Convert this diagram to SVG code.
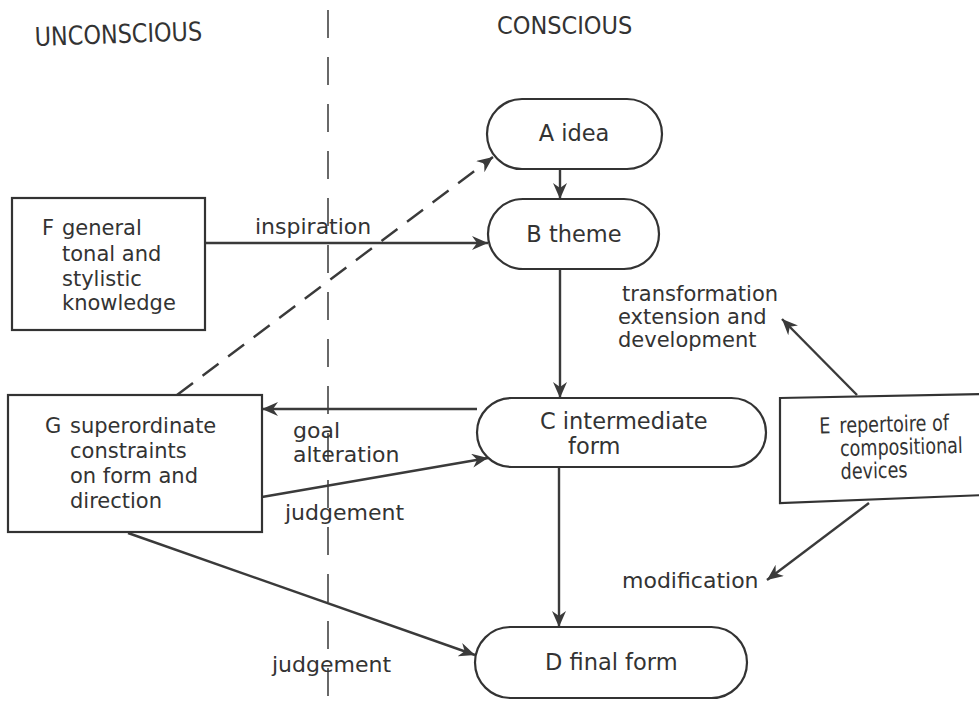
<svg xmlns="http://www.w3.org/2000/svg" width="979" height="710" viewBox="0 0 979 710">
<defs>
<style>
text{font-family:"DejaVu Sans","Liberation Sans",sans-serif;fill:#333;}
.lbl{font-size:22.5px;}
.box{font-size:21px;}
.side{font-size:22px;}
.tr{font-size:21px;}
.shape{fill:#fff;stroke:#333;stroke-width:2.2;}
.edge{fill:none;stroke:#3a3a3a;stroke-width:2.4;}
.dash{fill:none;stroke:#3a3a3a;stroke-width:2.4;stroke-dasharray:20 12;}
.divider{stroke:#444;stroke-width:1.6;stroke-dasharray:28 19;}
</style>
<marker id="ah" markerUnits="userSpaceOnUse" markerWidth="18" markerHeight="14" refX="16" refY="7" orient="auto">
<path d="M0,0 L16,7 L0,14 L5,7 z" fill="#3a3a3a"/>
</marker>
</defs>
<rect width="979" height="710" fill="#fff"/>

<g id="divider">
<line class="divider" x1="328" y1="10" x2="328" y2="710"/>
</g>
<g id="headers">
<text transform="translate(35,46) rotate(-2) scale(0.86,1)" style="font-size:26px">UNCONSCIOUS</text>
<text transform="translate(497,34) scale(0.9,1)" style="font-size:25px">CONSCIOUS</text>
</g>

<g id="connectors">
<line class="edge" x1="560" y1="169" x2="560" y2="199" marker-end="url(#ah)"/>
<line class="edge" x1="560" y1="269" x2="560" y2="398" marker-end="url(#ah)"/>
<line class="edge" x1="559" y1="467" x2="559" y2="627" marker-end="url(#ah)"/>
<line class="edge" x1="205" y1="243" x2="488" y2="243" marker-end="url(#ah)"/>
<line class="edge" x1="477" y1="409" x2="262" y2="409" marker-end="url(#ah)"/>
<line class="edge" x1="262" y1="497" x2="488" y2="458" marker-end="url(#ah)"/>
<line class="edge" x1="128" y1="533" x2="475" y2="655" marker-end="url(#ah)"/>
<line class="dash" x1="177" y1="395" x2="493" y2="157" marker-end="url(#ah)"/>
<line class="edge" x1="857" y1="395" x2="782" y2="319" marker-end="url(#ah)"/>
<line class="edge" x1="869" y1="503" x2="767" y2="580" marker-end="url(#ah)"/>
</g>

<g id="edge-labels">
<text class="side" x="255" y="234">inspiration</text>
<text class="side" x="293" y="438">goal</text>
<text class="side" x="293" y="462">alteration</text>
<text class="side" x="285" y="520">judgement</text>
<text class="side" x="272" y="672">judgement</text>
<text class="tr" x="622" y="301">transformation</text>
<text class="tr" x="618" y="324">extension and</text>
<text class="tr" x="618" y="347">development</text>
<text class="side" x="622" y="588">modification</text>
</g>

<g id="node-A">
<rect class="shape" x="487" y="99" width="175" height="70" rx="35"/>
<text class="lbl" x="574" y="141" text-anchor="middle">A idea</text>
</g>
<g id="node-B">
<rect class="shape" x="488" y="199" width="171" height="70" rx="35"/>
<text class="lbl" x="574" y="242" text-anchor="middle">B theme</text>
</g>
<g id="node-C">
<rect class="shape" x="477" y="398" width="289" height="69" rx="34.5"/>
<text class="lbl" x="540" y="429">C intermediate</text>
<text class="lbl" x="568" y="454">form</text>
</g>
<g id="node-D">
<rect class="shape" x="475" y="627" width="272" height="71" rx="35.5"/>
<text class="lbl" x="545" y="670">D final form</text>
</g>
<g id="node-F">
<rect class="shape" x="12" y="198" width="193" height="132"/>
<text class="box" x="42" y="235">F</text>
<text class="box" x="62" y="235">general</text>
<text class="box" x="62" y="261">tonal and</text>
<text class="box" x="62" y="286">stylistic</text>
<text class="box" x="62" y="310">knowledge</text>
</g>
<g id="node-G">
<rect class="shape" x="8" y="395" width="254" height="137"/>
<text class="box" x="45" y="433">G</text>
<text class="box" x="70" y="433">superordinate</text>
<text class="box" x="70" y="458">constraints</text>
<text class="box" x="70" y="483">on form and</text>
<text class="box" x="70" y="508">direction</text>
</g>
<g id="node-E">
<path class="shape" d="M780,398 L985,394 L985,495 L780,503 Z"/>
<g transform="rotate(-1.5 880 450)">
<text transform="translate(820,432) scale(0.8,1)" style="font-size:22px">E</text>
<text transform="translate(840,432) scale(0.8,1)" style="font-size:22px">repertoire of</text>
<text transform="translate(840,455) scale(0.8,1)" style="font-size:22px">compositional</text>
<text transform="translate(840,478) scale(0.8,1)" style="font-size:22px">devices</text>
</g>
</g>
</svg>
